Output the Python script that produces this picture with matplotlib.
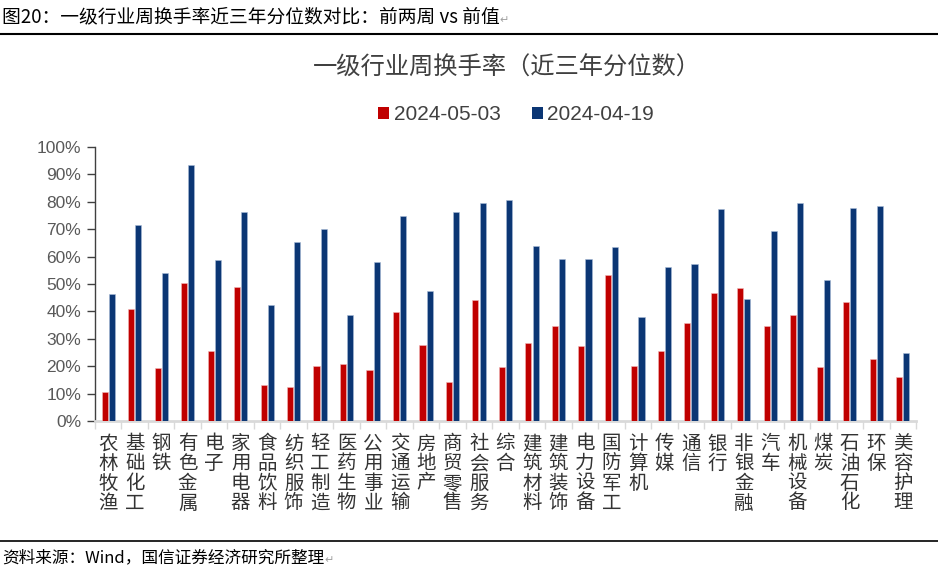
import matplotlib
matplotlib.use("Agg")
import matplotlib.pyplot as plt
import numpy as np
from matplotlib.patches import Patch

plt.rcParams['font.family'] = ['Liberation Sans', 'Noto Sans CJK SC', 'DejaVu Sans']

categories = ["农林牧渔", "基础化工", "钢铁", "有色金属", "电子", "家用电器", "食品饮料",
              "纺织服饰", "轻工制造", "医药生物", "公用事业", "交通运输", "房地产", "商贸零售",
              "社会服务", "综合", "建筑材料", "建筑装饰", "电力设备", "国防军工", "计算机",
              "传媒", "通信", "银行", "非银金融", "汽车", "机械设备", "煤炭", "石油石化",
              "环保", "美容护理"]
series_0503 = [10.5, 40.7, 19.5, 50.3, 25.6, 49.0, 13.2, 12.4, 20.1, 20.7, 18.6, 39.7, 27.9, 14.1,
               44.2, 19.6, 28.6, 34.8, 27.3, 53.2, 20.0, 25.6, 35.8, 46.6, 48.7, 34.8, 38.8, 19.6,
               43.6, 22.7, 16.1]
series_0419 = [46.4, 71.5, 54.0, 93.5, 58.6, 76.2, 42.3, 65.3, 70.0, 38.7, 58.2, 74.9, 47.4, 76.2,
               79.7, 80.5, 63.7, 59.0, 59.1, 63.5, 38.0, 56.1, 57.4, 77.5, 44.5, 69.2, 79.7, 51.4,
               77.8, 78.5, 24.7]
series_names = ["2024-05-03", "2024-04-19"]
yticks = [0, 10, 20, 30, 40, 50, 60, 70, 80, 90, 100]

RED = "#C00000"
BLUE = "#0B3674"

W, H = 938, 574
fig = plt.figure(figsize=(W / 100, H / 100), dpi=100)

ax = fig.add_axes([95 / W, 1 - 421 / H, (916 - 95) / W, (421 - 147) / H])
x = np.arange(len(categories))
bw = 0.23
ax.bar(x - 0.135, series_0503, bw, color=RED, edgecolor="#F2B8B8", linewidth=0.4, zorder=3)
ax.bar(x + 0.135, series_0419, bw, color=BLUE, edgecolor="#A9BBD6", linewidth=0.4, zorder=3)

ax.set_xlim(-0.5, len(categories) - 0.5)
ax.set_ylim(0, 100)
ax.set_yticks(yticks)
ax.set_yticklabels([f"{v}%" for v in yticks], fontsize=12.5, color="#595959")
ax.tick_params(axis="y", direction="out", length=6, width=1, color="#404040", pad=4)

ax.set_xticks(np.arange(len(categories) + 1) - 0.5, minor=False)
ax.set_xticklabels([])
ax.tick_params(axis="x", direction="out", length=6, width=1, color="#D9D9D9")
for i, c in enumerate(categories):
    ax.text(i, -4.5, "\n".join(c), ha="center", va="top", fontsize=14, color="#333333",
            linespacing=0.92, transform=ax.transData, family=['Noto Sans CJK SC', 'DejaVu Sans'])

for s in ["top", "right"]:
    ax.spines[s].set_visible(False)
ax.spines["left"].set_color("#404040")
ax.spines["left"].set_linewidth(1)
ax.spines["bottom"].set_color("#D9D9D9")
ax.spines["bottom"].set_linewidth(2)

fig.text(507 / W, 1 - 68 / H, "一级行业周换手率（近三年分位数）", ha="center", va="center",
         fontsize=17.5, color="#404040", family=['Noto Sans CJK SC', 'DejaVu Sans'])

handles = [Patch(facecolor=RED), Patch(facecolor=BLUE)]
fig.legend(handles, series_names, loc="center", bbox_to_anchor=(516 / W, 1 - 115 / H), ncol=2,
           frameon=False, fontsize=15, handlelength=0.55, handleheight=0.55, handletextpad=0.2,
           columnspacing=1.5, labelcolor="#404040")

# Header and footer
t1 = fig.text(2 / W, 1 - 17 / H, "图20：一级行业周换手率近三年分位数对比：前两周 vs 前值", ha="left",
              va="center", fontsize=13.5, color="black", family=['Noto Sans CJK SC', 'DejaVu Sans'])
fig.add_artist(plt.Line2D([0, 1], [1 - 34 / H, 1 - 34 / H], color="black", linewidth=1.5,
                          transform=fig.transFigure))
fig.add_artist(plt.Line2D([0, 1], [1 - 541 / H, 1 - 541 / H], color="black", linewidth=1.2,
                          transform=fig.transFigure))
t2 = fig.text(2 / W, 1 - 558 / H, "资料来源：Wind，国信证券经济研究所整理", ha="left", va="center",
              fontsize=12, color="black", family=['Noto Sans CJK SC', 'DejaVu Sans'])
for t in (t1, t2):
    fig.get_axes()[0].annotate("↵", xy=(1, 0.1), xycoords=t, ha="left", va="bottom",
                               fontsize=8, color="#A0A0A0", family=['DejaVu Sans'],
                               annotation_clip=False)

fig.savefig("out.png", dpi=100)
